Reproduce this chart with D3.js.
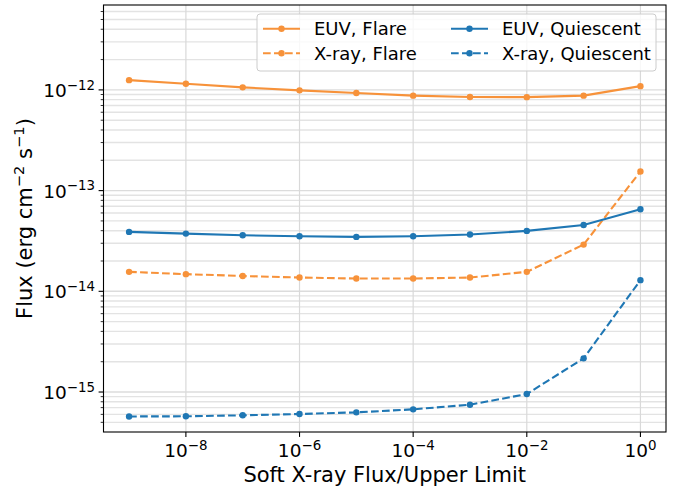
<!DOCTYPE html>
<html>
<head>
<meta charset="utf-8">
<script src="https://cdn.jsdelivr.net/npm/d3@7"></script>
<style>
  body { margin: 0; background: #fff; }
  text { font-family: "DejaVu Sans", sans-serif; fill: #000; }
</style>
</head>
<body>
<div id="chart"></div>
<script>
// Datos
var xValues = [1e-9, 1e-8, 1e-7, 1e-6, 1e-5, 1e-4, 1e-3, 1e-2, 1e-1, 1e0];
var euvFlare = [1.25e-12, 1.15e-12, 1.06e-12, 0.99e-12, 0.93e-12, 0.877e-12, 0.85e-12, 0.847e-12, 0.877e-12, 1.09e-12];
var xrayFlare = [1.56e-14, 1.48e-14, 1.42e-14, 1.37e-14, 1.34e-14, 1.34e-14, 1.37e-14, 1.56e-14, 2.91e-14, 1.55e-13];
var euvQuiet = [3.89e-14, 3.74e-14, 3.60e-14, 3.52e-14, 3.47e-14, 3.52e-14, 3.66e-14, 3.98e-14, 4.56e-14, 6.53e-14];
var xrayQuiet = [5.72e-16, 5.74e-16, 5.87e-16, 6.05e-16, 6.28e-16, 6.73e-16, 7.48e-16, 9.55e-16, 2.16e-15, 1.29e-14];
var xTicks = [1e-8, 1e-6, 1e-4, 1e-2, 1e0];
var xTickExp = ["−8", "−6", "−4", "−2", "0"];
var yTicks = [1e-15, 1e-14, 1e-13, 1e-12];
var yTickExp = ["−15", "−14", "−13", "−12"];

var series = [
  {name: "EUV, Flare", values: euvFlare, color: "#f7923a", dash: null},
  {name: "X-ray, Flare", values: xrayFlare, color: "#f7923a", dash: "7.7,3.3"},
  {name: "EUV, Quiescent", values: euvQuiet, color: "#1f77b4", dash: null},
  {name: "X-ray, Quiescent", values: xrayQuiet, color: "#1f77b4", dash: "7.7,3.3"}
];

//Crea Lienzo
var width = 685;
var height = 489;
var pLeft = 103.5, pRight = 666, pTop = 5, pBottom = 432;

var svg = d3.select("#chart")
            .append("svg")
            .attr("width", width)
            .attr("height", height);

//Escalas
var x = d3.scaleLog()
          .domain([Math.pow(10, -9.45), Math.pow(10, 0.45)])
          .range([pLeft, pRight]);
var y = d3.scaleLog()
          .domain([Math.pow(10, -15.397), Math.pow(10, -11.157)])
          .range([pBottom, pTop]);

//Ticks menores del eje y
var yMinor = [];
for (var e = -16; e <= -11; e++) {
    for (var k = 2; k <= 9; k++) {
        var v = k * Math.pow(10, e);
        if (v >= y.domain()[0] && v <= y.domain()[1]) yMinor.push(v);
    }
}

//Rejilla
var grid = svg.append("g");
grid.selectAll("line.ymin")
    .data(yMinor)
    .enter()
    .append("line")
    .attr("x1", pLeft).attr("x2", pRight)
    .attr("y1", d => y(d)).attr("y2", d => y(d))
    .attr("stroke", "#e3e3e3")
    .attr("stroke-width", 1.4);
grid.selectAll("line.ymaj")
    .data(yTicks)
    .enter()
    .append("line")
    .attr("x1", pLeft).attr("x2", pRight)
    .attr("y1", d => y(d)).attr("y2", d => y(d))
    .attr("stroke", "#dcdcdc")
    .attr("stroke-width", 1.4);
grid.selectAll("line.xmaj")
    .data(xTicks)
    .enter()
    .append("line")
    .attr("x1", d => x(d)).attr("x2", d => x(d))
    .attr("y1", pTop).attr("y2", pBottom)
    .attr("stroke", "#d9d9d9")
    .attr("stroke-width", 1.2);

//Pinta las series
var line = d3.line()
             .x((d, i) => x(xValues[i]))
             .y(d => y(d));

series.forEach(function(s) {
    var g = svg.append("g");
    g.append("path")
     .attr("d", line(s.values))
     .attr("fill", "none")
     .attr("stroke", s.color)
     .attr("stroke-width", 2.1)
     .attr("stroke-dasharray", s.dash);
    g.selectAll("circle")
     .data(s.values)
     .enter()
     .append("circle")
     .attr("cx", (d, i) => x(xValues[i]))
     .attr("cy", d => y(d))
     .attr("r", 3.2)
     .attr("fill", s.color);
});

//Marco
svg.append("rect")
   .attr("x", pLeft).attr("y", pTop)
   .attr("width", pRight - pLeft).attr("height", pBottom - pTop)
   .attr("fill", "none")
   .attr("stroke", "#000")
   .attr("stroke-width", 1.1);

//Ticks eje x
var xAxis = svg.append("g");
xAxis.selectAll("line")
     .data(xTicks)
     .enter()
     .append("line")
     .attr("x1", d => x(d)).attr("x2", d => x(d))
     .attr("y1", pBottom).attr("y2", pBottom + 4.9)
     .attr("stroke", "#000").attr("stroke-width", 1.1);
var xLab = xAxis.selectAll("text")
     .data(xTicks)
     .enter()
     .append("text")
     .attr("x", d => x(d))
     .attr("y", 457)
     .attr("text-anchor", "middle")
     .style("font-size", "18.5px");
xLab.append("tspan").text("10");
xLab.append("tspan")
    .attr("dy", "-0.55em")
    .style("font-size", "13.4px")
    .text((d, i) => xTickExp[i]);

//Ticks eje y
var yAxis = svg.append("g");
yAxis.selectAll("line.maj")
     .data(yTicks)
     .enter()
     .append("line")
     .attr("x1", pLeft - 4.9).attr("x2", pLeft)
     .attr("y1", d => y(d)).attr("y2", d => y(d))
     .attr("stroke", "#000").attr("stroke-width", 1.1);
yAxis.selectAll("line.min")
     .data(yMinor)
     .enter()
     .append("line")
     .attr("x1", pLeft - 2.8).attr("x2", pLeft)
     .attr("y1", d => y(d)).attr("y2", d => y(d))
     .attr("stroke", "#000").attr("stroke-width", 0.8);
var yLab = yAxis.selectAll("text")
     .data(yTicks)
     .enter()
     .append("text")
     .attr("x", pLeft - 8.5)
     .attr("y", d => y(d) + 7)
     .attr("text-anchor", "end")
     .style("font-size", "18.5px");
yLab.append("tspan").text("10");
yLab.append("tspan")
    .attr("dy", "-0.55em")
    .style("font-size", "13.4px")
    .text((d, i) => yTickExp[i]);

//Titulos de ejes
svg.append("text")
   .attr("x", (pLeft + pRight) / 2)
   .attr("y", 482)
   .attr("text-anchor", "middle")
   .style("font-size", "21px")
   .text("Soft X-ray Flux/Upper Limit");

var yTitle = svg.append("text")
   .attr("transform", "translate(32," + (pTop + pBottom) / 2 + ") rotate(-90)")
   .attr("text-anchor", "middle")
   .style("font-size", "21px");
yTitle.append("tspan").text("Flux (erg cm");
yTitle.append("tspan").attr("dy", -8).style("font-size", "14.7px").text("−2");
yTitle.append("tspan").attr("dy", 8).text(" s");
yTitle.append("tspan").attr("dy", -8).style("font-size", "14.7px").text("−1");
yTitle.append("tspan").attr("dy", 8).text(")");

//Leyenda
var legend = svg.append("g");
legend.append("rect")
      .attr("x", 257).attr("y", 14)
      .attr("width", 399).attr("height", 57)
      .attr("rx", 3)
      .attr("fill", "#fff").attr("fill-opacity", 0.8)
      .attr("stroke", "#cccccc").attr("stroke-width", 1);

var legendPos = [[263, 28.7], [263, 53.3], [451, 28.7], [451, 53.3]];
series.forEach(function(s, i) {
    var p = legendPos[i];
    legend.append("line")
          .attr("x1", p[0]).attr("x2", p[0] + 37)
          .attr("y1", p[1]).attr("y2", p[1])
          .attr("stroke", s.color)
          .attr("stroke-width", 2.1)
          .attr("stroke-dasharray", s.dash);
    legend.append("circle")
          .attr("cx", p[0] + 18.5).attr("cy", p[1])
          .attr("r", 3.2)
          .attr("fill", s.color);
    legend.append("text")
          .attr("x", p[0] + 51)
          .attr("y", p[1] + 6.5)
          .style("font-size", "18px")
          .text(s.name);
});
</script>
</body>
</html>
